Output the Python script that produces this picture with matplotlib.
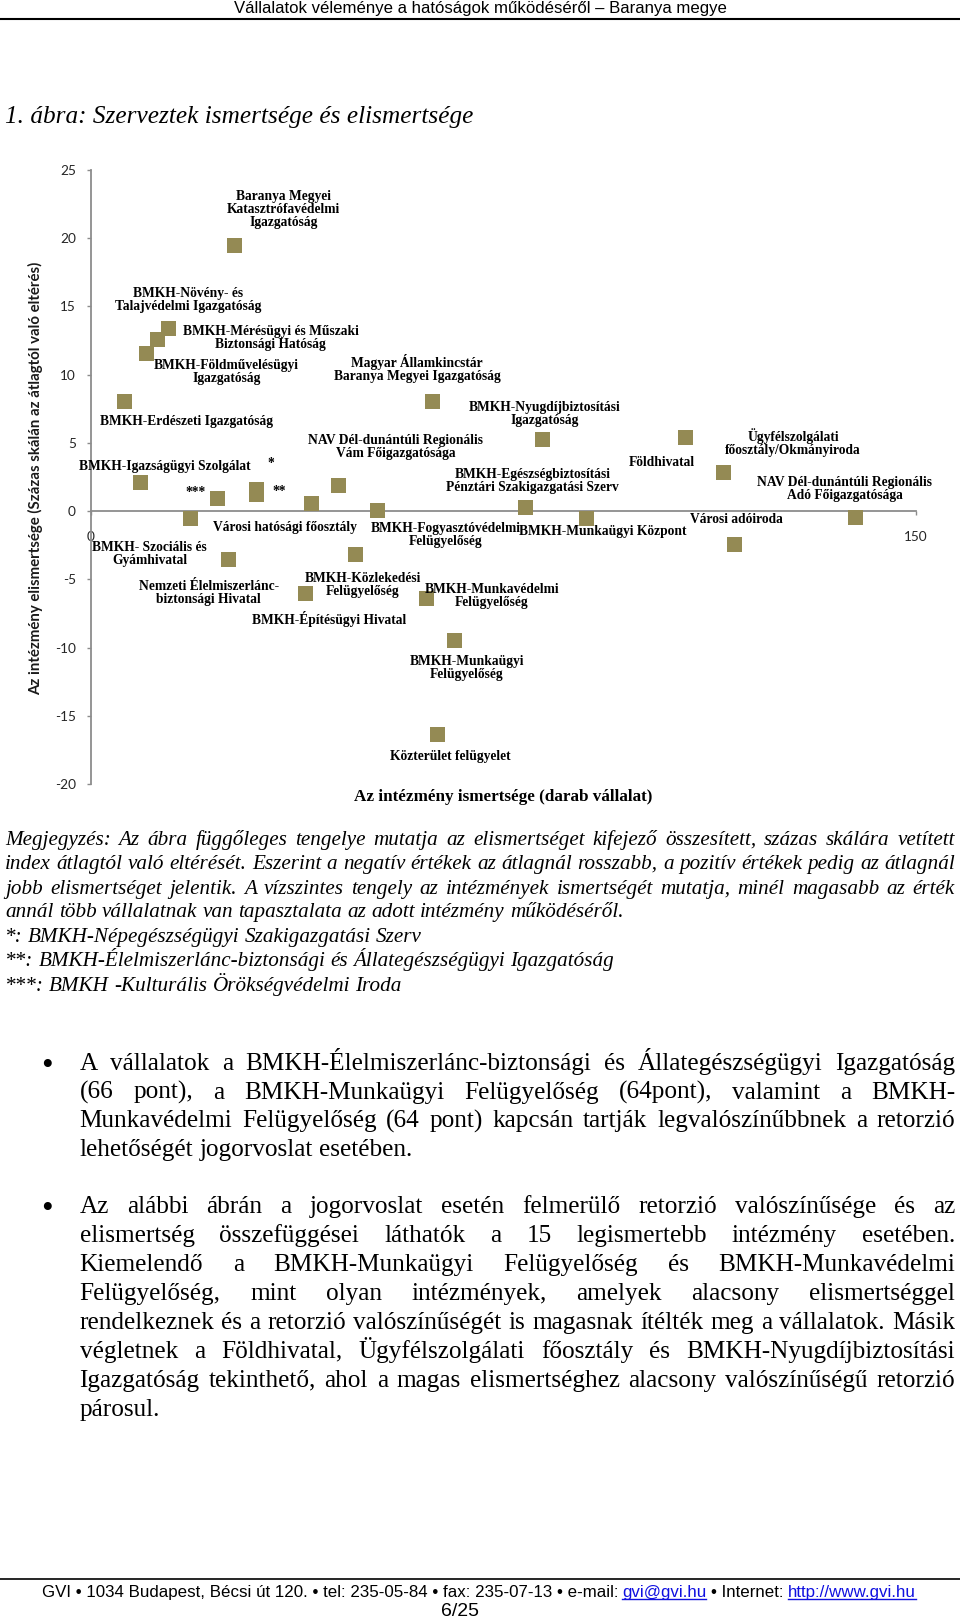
import matplotlib
matplotlib.use('Agg')
import matplotlib.pyplot as plt
from matplotlib.lines import Line2D

plt.rcParams['axes.unicode_minus'] = False

# ---------------- data ----------------
intezmenyek = [
    "Baranya Megyei\nKatasztrófavédelmi\nIgazgatóság",
    "BMKH-Növény- és\nTalajvédelmi Igazgatóság",
    "BMKH-Mérésügyi és Műszaki\nBiztonsági Hatóság",
    "BMKH-Földművelésügyi\nIgazgatóság",
    "BMKH-Erdészeti Igazgatóság",
    "Magyar Államkincstár\nBaranya Megyei Igazgatóság",
    "BMKH-Nyugdíjbiztosítási\nIgazgatóság",
    "Földhivatal",
    "Ügyfélszolgálati\nfőosztály/Okmányiroda",
    "BMKH-Igazságügyi Szolgálat",
    "***",
    "*",
    "**",
    "Városi hatósági főosztály",
    "NAV Dél-dunántúli Regionális\nVám Főigazgatósága",
    "BMKH-Fogyasztóvédelmi\nFelügyelőség",
    "BMKH-Egészségbiztosítási\nPénztári Szakigazgatási Szerv",
    "BMKH-Munkaügyi Központ",
    "Városi adóiroda",
    "NAV Dél-dunántúli Regionális\nAdó Főigazgatósága",
    "BMKH- Szociális és\nGyámhivatal",
    "Nemzeti Élelmiszerlánc-\nbiztonsági Hivatal",
    "BMKH-Közlekedési\nFelügyelőség",
    "BMKH-Építésügyi Hivatal",
    "BMKH-Munkavédelmi\nFelügyelőség",
    "BMKH-Munkaügyi\nFelügyelőség",
    "Közterület felügyelet",
]
ismertseg = [26, 14, 12, 10, 6, 62, 82, 108, 115, 9, 23, 30, 30, 40, 45, 52,
             79, 90, 117, 139, 18, 25, 48, 39, 61, 66, 63]
elismertseg = [19.5, 13.4, 12.6, 11.6, 8.1, 8.1, 5.3, 5.45, 2.9, 2.1, 0.97,
               1.65, 1.25, 0.56, 1.9, 0.1, 0.27, -0.54, -2.42, -0.42, -0.54,
               -3.54, -3.17, -6.0, -6.4, -9.45, -16.3]
y_ticks = [-20, -15, -10, -5, 0, 5, 10, 15, 20, 25]
x_ticks = [0, 150]
x_title = "Az intézmény ismertsége (darab vállalat)"
y_title = "Az intézmény elismertsége (Százas skálán az átlagtól való eltérés)"

header_text = "Vállalatok véleménye a hatóságok működéséről – Baranya megye"
title_text = "1. ábra: Szerveztek ismertsége és elismertsége"
note_lines = [
    "Megjegyzés: Az ábra függőleges tengelye mutatja az elismertséget kifejező összesített, százas skálára vetített",
    "index átlagtól való eltérését. Eszerint a negatív értékek az átlagnál rosszabb, a pozitív értékek pedig az átlagnál",
    "jobb elismertséget jelentik. A vízszintes tengely az intézmények ismertségét mutatja, minél magasabb az érték",
    "annál több vállalatnak van tapasztalata az adott intézmény működéséről.",
    "*: BMKH-Népegészségügyi Szakigazgatási Szerv",
    "**: BMKH-Élelmiszerlánc-biztonsági és Állategészségügyi Igazgatóság",
    "***: BMKH -Kulturális Örökségvédelmi Iroda",
]
bullet1_lines = [
    "A vállalatok a BMKH-Élelmiszerlánc-biztonsági és Állategészségügyi Igazgatóság",
    "(66 pont), a BMKH-Munkaügyi Felügyelőség (64pont), valamint a BMKH-",
    "Munkavédelmi Felügyelőség (64 pont) kapcsán tartják legvalószínűbbnek a retorzió",
    "lehetőségét jogorvoslat esetében.",
]
bullet2_lines = [
    "Az alábbi ábrán a jogorvoslat esetén felmerülő retorzió valószínűsége és az",
    "elismertség összefüggései láthatók a 15 legismertebb intézmény esetében.",
    "Kiemelendő a BMKH-Munkaügyi Felügyelőség és BMKH-Munkavédelmi",
    "Felügyelőség, mint olyan intézmények, amelyek alacsony elismertséggel",
    "rendelkeznek és a retorzió valószínűségét is magasnak ítélték meg a vállalatok. Másik",
    "végletnek a Földhivatal, Ügyfélszolgálati főosztály és BMKH-Nyugdíjbiztosítási",
    "Igazgatóság tekinthető, ahol a magas elismertséghez alacsony valószínűségű retorzió",
    "párosul.",
]
footer_segments = [
    ("GVI • 1034 Budapest, Bécsi út 120. • tel: 235-05-84 • fax: 235-07-13 • e-mail:", False),
    ("gvi@gvi.hu", True),
    ("• Internet:", False),
    ("http://www.gvi.hu", True),
]
page_number = "6/25"

# ---------------- layout / style (pixels) ----------------
label_offsets = [(50, -35.7), (21, -28.5), (114, -1.2), (81, 19.5), (63.4, 21),
                 (-14.5, -32), (3, -25), (-23.3, 25.6), (69.6, -29.2), (24.8, -16.3),
                 (-21.3, -5), (15.3, -25), (24, -3), (-26, 24), (57.3, -38),
                 (69.4, 25.6), (7.3, -26.3), (17.3, 12.7), (2.4, -25), (-10.7, -27.4),
                 (-40, 35.9), (-19.3, 33.5), (8.3, 30.7), (24, 25.6), (65.6, -2.5),
                 (13, 28), (12.8, 23)]
MARKER_COLOR = '#948A54'
AXIS_COLOR = '#8C8C8C'
SERIF = ['Liberation Serif', 'DejaVu Serif']
SANS = ['Liberation Sans', 'DejaVu Sans']
CAL = ['Lato', 'DejaVu Sans']

W, H = 960, 1620
fig = plt.figure(figsize=(W / 100, H / 100), dpi=100)
fig.patch.set_facecolor('white')
renderer = fig.canvas.get_renderer()


def fx(x):
    return x / W


def fy(y):
    return 1 - y / H


def extent(s, **kw):
    t = fig.text(0, 0, s, **kw)
    bb = t.get_window_extent(renderer=renderer)
    t.remove()
    return bb.width, bb.height


def fit_size(s, target, dim='w', base=12, **kw):
    w, h = extent(s, fontsize=base, **kw)
    return base * target / (w if dim == 'w' else h)


def space_width(size, **kw):
    return extent('x x', fontsize=size, **kw)[0] - extent('xx', fontsize=size, **kw)[0]


def paragraph(lines, x0, x1, ys, size, flags, minfrac=0.6, **kw):
    target = x1 - x0
    for line, y, just in zip(lines, ys, flags):
        s = size
        words = line.split(' ')
        ws = [extent(w, fontsize=s, **kw)[0] for w in words]
        sp = space_width(s, **kw)
        need = sum(ws) + (len(words) - 1) * sp * minfrac
        if need > target:
            s = s * target / need
            ws = [extent(w, fontsize=s, **kw)[0] for w in words]
            sp = space_width(s, **kw)
        gap = (target - sum(ws)) / (len(words) - 1) if (just and len(words) > 1) else sp
        x = x0
        base = y + 0.33 * s * 100 / 72
        for w, wd in zip(words, ws):
            fig.text(fx(x), fy(base), w, fontsize=s, ha='left', va='baseline', **kw)
            x += wd + gap


# ---------------- header & title ----------------
hs = fit_size(header_text, 493, family=SANS)
fig.text(fx(480), fy(8.5), header_text, fontsize=hs, family=SANS, ha='center', va='center', color='black')
fig.add_artist(Line2D([0, 1], [fy(18.8), fy(18.8)], transform=fig.transFigure, color='black', lw=1.5))

ts = fit_size(title_text, 466, family=SERIF, style='italic')
fig.text(fx(5), fy(117), title_text, fontsize=ts, family=SERIF, style='italic', ha='left', va='center')

# ---------------- chart ----------------
ax = fig.add_axes([fx(90.5), fy(784), (916 - 90.5) / W, (784 - 170) / H])
ax.set_xlim(0, 150)
ax.set_ylim(-20, 25)
ax.set_facecolor('none')
ax.plot(ismertseg, elismertseg, 's', color=MARKER_COLOR, markersize=10.8,
        markeredgewidth=0, clip_on=False, zorder=3)

ls = fit_size("BMKH-Erdészeti Igazgatóság", 172, family=SERIF, weight='bold')
for name, xv, yv, (dx, dy) in zip(intezmenyek, ismertseg, elismertseg, label_offsets):
    ax.annotate(name, (xv, yv), xytext=(dx * 0.72, -dy * 0.72), textcoords='offset points',
                ha='center', va='center', multialignment='center', fontsize=ls,
                family=SERIF, weight='bold', linespacing=1.0, color='black', zorder=4)

for s in ['top', 'right']:
    ax.spines[s].set_visible(False)
ax.spines['bottom'].set_position(('data', 0))
for s in ['left', 'bottom']:
    ax.spines[s].set_color(AXIS_COLOR)
    ax.spines[s].set_linewidth(1.3)
ax.set_yticks(y_ticks)
ax.set_yticklabels([str(v) for v in y_ticks])
ax.set_xticks(x_ticks)
ax.set_xticklabels([str(v) for v in x_ticks])
ax.tick_params(axis='y', direction='out', length=3, width=1, color=AXIS_COLOR, pad=7.5,
               labelsize=9.8, labelcolor='#262626')
ax.tick_params(axis='x', direction='out', length=3, width=1, color=AXIS_COLOR, pad=11,
               labelsize=9.8, labelcolor='#262626')
for lab in ax.get_xticklabels() + ax.get_yticklabels():
    lab.set_family(CAL)

xs = fit_size(x_title, 297, family=SERIF, weight='bold')
fig.text(fx(503), fy(797), x_title, fontsize=xs, family=SERIF, weight='bold', ha='center', va='center')
ys_ = fit_size(y_title, 429, dim='h', family=CAL, weight='bold', rotation=90)
fig.text(fx(36), fy(478), y_title, fontsize=ys_, family=CAL, weight='bold', rotation=90,
         ha='center', va='center', color='#1a1a1a')

# ---------------- notes ----------------
note_flags = [True, True, True, False, False, False, False]
note_ys = [838, 862, 886.6, 910.4, 935, 959, 983.8]
paragraph(note_lines, 5, 955, note_ys, 15.2, note_flags, family=SERIF, style='italic')

# ---------------- bullets ----------------
BODY = 18.2
b1_flags = [True, True, True, False]
b2_flags = [True] * 7 + [False]
b1_ys = [1061.3, 1090.2, 1119.1, 1148]
b2_ys = [1205, 1234, 1262.8, 1291.7, 1320.6, 1349.5, 1378.5, 1407.5]
paragraph(bullet1_lines, 79.6, 955, b1_ys, BODY, b1_flags, family=SERIF)
paragraph(bullet2_lines, 79.6, 955, b2_ys, BODY, b2_flags, family=SERIF)
for yb in (b1_ys[0], b2_ys[0]):
    fig.text(fx(46.5), fy(yb + 5), '•', fontsize=BODY * 1.3, family=SERIF,
             ha='center', va='center')

# ---------------- footer ----------------
fig.add_artist(Line2D([0, 1], [fy(1579), fy(1579)], transform=fig.transFigure, color='black', lw=1.2))
base = 12
seg_w = [extent(s, fontsize=base, family=SANS)[0] for s, _ in footer_segments]
sp = space_width(base, family=SANS)
total = sum(seg_w) + sp * (len(footer_segments) - 1)
fsz = base * (915.6 - 42.4) / total
seg_w = [w * fsz / base for w in seg_w]
sp = sp * fsz / base
x = 42.4
yb = 1591.4 + 0.36 * fsz * 100 / 72
for (s, link), w in zip(footer_segments, seg_w):
    col = '#1010e0' if link else 'black'
    fig.text(fx(x), fy(yb), s, fontsize=fsz, family=SANS, color=col, ha='left', va='baseline')
    if link:
        fig.add_artist(Line2D([fx(x), fx(x + w)], [fy(yb + 2), fy(yb + 2)],
                              transform=fig.transFigure, color=col, lw=1))
    x += w + sp
ps = fit_size(page_number, 38, family=SANS)
fig.text(fx(460), fy(1612), page_number, fontsize=ps, family=SANS, ha='center', va='center')

fig.savefig('out.png', dpi=100, facecolor='white')
